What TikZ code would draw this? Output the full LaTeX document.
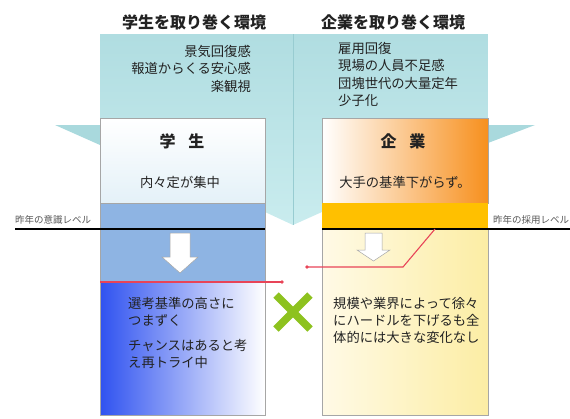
\documentclass[tikz,border=0pt]{standalone}
\usepackage{fontspec}
\newfontfamily\jp{Noto Sans CJK JP}
\usetikzlibrary{calc}
\definecolor{cyantop}{HTML}{B0DDE1}
\definecolor{cyanbot}{HTML}{C9ECEE}
\definecolor{cyandk}{HTML}{A9D9DD}
\definecolor{foldln}{HTML}{98CCD1}
\definecolor{bandblue}{HTML}{8EB4E3}
\definecolor{deepblue}{HTML}{2F52F0}
\definecolor{orangeR}{HTML}{F7901E}
\definecolor{amber}{HTML}{FFC000}
\definecolor{paleYl}{HTML}{FFFAE6}
\definecolor{paleYr}{HTML}{FCEDA4}
\definecolor{redln}{HTML}{E84458}
\definecolor{xgreen}{HTML}{8DC21F}
\definecolor{txt}{HTML}{222222}
\definecolor{boxline}{HTML}{A6A6A6}
\definecolor{lbl}{HTML}{555555}
\definecolor{wbot}{HTML}{E4F1F8}
\tikzset{
  title/.style={font=\jp\bfseries\fontsize{16}{18}\selectfont, text=txt, inner sep=0pt},
  body/.style={font=\jp\fontsize{13.3}{17.3}\selectfont, text=txt, inner sep=0pt},
  head/.style={font=\jp\bfseries\fontsize{16}{18}\selectfont, text=txt, inner sep=0pt},
  lvl/.style={font=\jp\fontsize{9.5}{11}\selectfont, text=lbl, inner sep=0pt},
  boxedge/.style={draw=boxline, line width=0.6pt},
  redline/.style={draw=redln, line width=1.1pt},
  levelline/.style={draw=black, line width=1.3pt},
  blockarrow/.style={fill=white, draw=boxline, line width=0.5pt},
}
\begin{document}
\begin{tikzpicture}[x=1pt,y=-1pt]
\useasboundingbox (0,0) rectangle (570,418);
% cyan background banners
\shade[top color=cyantop, bottom color=cyanbot] (100,34) -- (293,34) -- (293,225) -- (265,212) -- (100,212) -- cycle;
\shade[top color=cyantop, bottom color=cyanbot] (293,34) -- (488,34) -- (488,212) -- (322,212) -- (293,225) -- cycle;
\draw[foldln, line width=0.8pt] (293,34) -- (293,225);
% flaps
\fill[cyandk] (55,125) -- (100,125) -- (100,145) -- cycle;
\fill[cyandk] (488,125) -- (535,125) -- (488,143) -- cycle;
% left column
\shade[top color=white, bottom color=wbot, boxedge] (100,118) rectangle (265,203);
\fill[bandblue] (100,203) rectangle (265,282);
\shade[left color=deepblue, right color=white, boxedge] (100,282) rectangle (265,415);
\draw[boxedge] (100,203) rectangle (265,282);
% right column
\shade[left color=white, right color=orangeR, boxedge] (322,118) rectangle (488,203);
\fill[amber] (322,203) rectangle (488,229);
\shade[left color=paleYl, right color=paleYr, boxedge] (322,229) rectangle (488,415);
% level lines
\coordinate (lvlL0) at (15,229);
\coordinate (lvlL1) at (265,229);
\coordinate (lvlR0) at (322,229);
\coordinate (lvlR1) at (570,229);
\draw[levelline] (lvlL0) -- (lvlL1);
\draw[levelline] (lvlR0) -- (lvlR1);
% block arrows
\draw[blockarrow] (170,233) -- (190,233) -- (190,257) -- (198,257) -- (180,273) -- (162,257) -- (170,257) -- cycle;
\draw[blockarrow] (365,233) -- (382,233) -- (382,250) -- (390,250) -- (373.5,261) -- (357,250) -- (365,250) -- cycle;
% red lines
\coordinate (redL0) at (100,282);
\coordinate (redL1) at (282,282);
\coordinate (redR0) at (435,229);
\coordinate (redRb) at (403,267);
\coordinate (redR1) at (307,267);
\draw[redline] (redL0) -- (redL1);
\fill[redln] (redL1) circle (1.8);
\draw[redline] (redR0) -- (redRb) -- (redR1);
\fill[redln] (redR1) circle (1.8);
% green cross
\draw[xgreen, line width=7.5pt] (276,295) -- (310,329);
\draw[xgreen, line width=7.5pt] (310,295) -- (276,329);
% titles
\node[title] (tL) at (194,22) {学生を取り巻く環境};
\node[title] (tR) at (393,22) {企業を取り巻く環境};
% cyan texts
\node[body, anchor=north east, align=right] (envL) at (251,45) {景気回復感\\報道からくる安心感\\楽観視};
\node[body, anchor=north west, align=left] (envR) at (338,42) {雇用回復\\現場の人員不足感\\団塊世代の大量定年\\少子化};
% box heads
\node[head] (hL) at (182,141) {学\hspace{0.8em}生};
\node[head] (hR) at (403,141) {企\hspace{0.8em}業};
\node[body] (sL) at (180,182) {内々定が集中};
\node[body] (sR) at (405,182) {大手の基準下がらず。};
% level labels
\node[lvl, anchor=west] (lblL) at (15,220) {昨年の意識レベル};
\node[lvl, anchor=west] (lblR) at (493,220) {昨年の採用レベル};
% lower texts
\node[body, anchor=north west, align=left] (bL1) at (128,297) {選考基準の高さに\\つまずく};
\node[body, anchor=north west, align=left] (bL2) at (128,339) {チャンスはあると考\\え再トライ中};
\node[body, anchor=north west, align=left] (bR) at (333,297) {規模や業界によって徐々\\にハードルを下げるも全\\体的には大きな変化なし};
\end{tikzpicture}
\end{document}
